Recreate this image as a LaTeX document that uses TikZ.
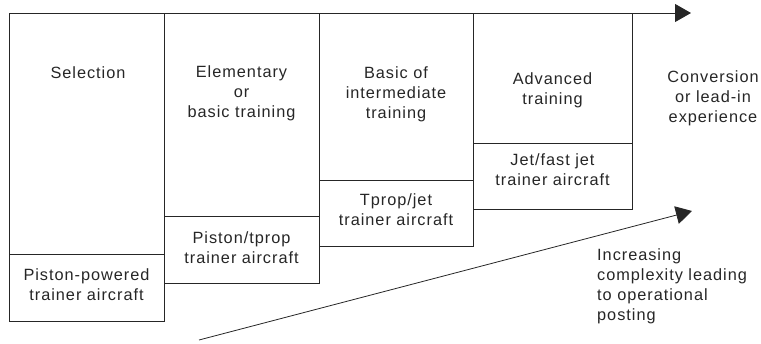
\documentclass[tikz,border=0pt]{standalone}
\usepackage{fontspec}
\setmainfont{Liberation Sans}[LetterSpace=6]
\usetikzlibrary{arrows.meta}
\begin{document}
\begin{tikzpicture}[x=1pt,y=-1pt,
  stagebox/.style={draw=black!85, line width=0.8pt, anchor=north west, inner sep=0pt, outer sep=0pt, rectangle},
  lbl/.style={align=center, font=\fontsize{16.3}{20}\selectfont, inner sep=0pt, text=black!85},
  lbll/.style={align=left, font=\fontsize{16.3}{20}\selectfont, inner sep=0pt, anchor=north west, text=black!85},
  arr/.style={draw=black!85, line width=0.8pt, -{Triangle[length=16pt,width=18pt]}}]
\useasboundingbox (0,0) rectangle (761,343);
% main stage boxes
\node[stagebox, minimum width=155pt, minimum height=308.5pt] (b1) at (9,13) {};
\node[stagebox, minimum width=155pt, minimum height=270pt] (b2) at (164,13) {};
\node[stagebox, minimum width=154pt, minimum height=233pt] (b3) at (319,13) {};
\node[stagebox, minimum width=159.5pt, minimum height=196.5pt] (b4) at (473,13) {};
% aircraft sub-boxes
\node[stagebox, minimum width=155pt, minimum height=67.5pt] (s1) at (9,254) {};
\node[stagebox, minimum width=155pt, minimum height=66.5pt] (s2) at (164,216.5) {};
\node[stagebox, minimum width=154pt, minimum height=65.5pt] (s3) at (319,180.5) {};
\node[stagebox, minimum width=159.5pt, minimum height=66pt] (s4) at (473,143.5) {};
% stage labels
\node[lbl] (t1) at (88,73) {Selection};
\node[lbl] (t2) at (241.5,93) {Elementary\\or\\basic training};
\node[lbl] (t3) at (396,94) {Basic of\\intermediate\\training};
\node[lbl] (t4) at (552.5,90.5) {Advanced\\training};
\node[lbl] (t5) at (713,98) {Conversion\\or lead-in\\experience};
% aircraft labels
\node[lbl] (a1) at (86.5,285) {Piston-powered\\trainer aircraft};
\node[lbl] (a2) at (241.5,248) {Piston/tprop\\trainer aircraft};
\node[lbl] (a3) at (396,209.5) {Tprop/jet\\trainer aircraft};
\node[lbl] (a4) at (552.5,170) {Jet/fast jet\\trainer aircraft};
% arrows
\coordinate (topend) at (691,13);
\draw[arr] (b1.north west) -- (topend);
\coordinate (ds) at (199,340);
\coordinate (de) at (692,211);
\draw[arr] (ds) -- (de);
\node[lbll] (inc) at (597,248.5) {Increasing\\complexity leading\\to operational\\posting};
\end{tikzpicture}
\end{document}
